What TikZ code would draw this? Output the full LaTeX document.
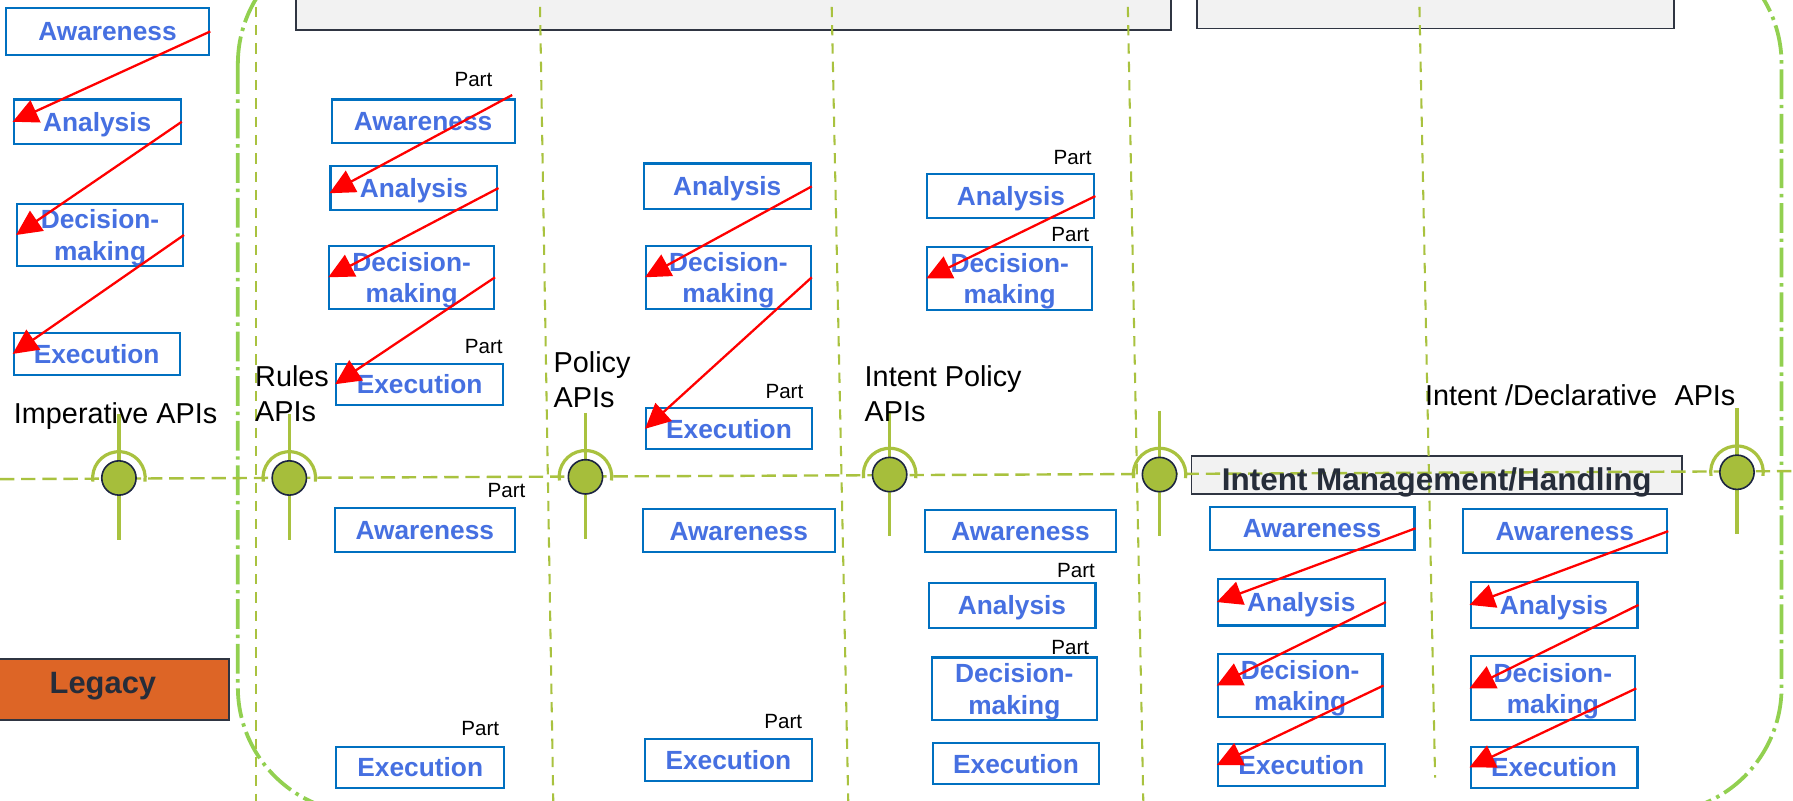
\documentclass[tikz,border=0pt]{standalone}
\usepackage{fontspec}
\setmainfont{Liberation Sans}
\usetikzlibrary{arrows.meta}

\definecolor{boxblue}{RGB}{0,112,192}
\definecolor{textblue}{RGB}{70,112,225}
\definecolor{olive}{RGB}{169,194,63}
\definecolor{lime}{RGB}{146,208,80}
\definecolor{dotfill}{RGB}{166,190,59}
\definecolor{navy}{RGB}{28,37,65}
\definecolor{barfill}{RGB}{242,242,242}
\definecolor{barline}{RGB}{47,53,66}
\definecolor{legacyorange}{RGB}{221,101,38}
\definecolor{darktext}{RGB}{38,45,58}

\tikzset{
  stagebox/.style={draw=boxblue, line width=1.8pt, fill=white, inner sep=0pt,
    text=textblue, font=\fontsize{23}{27.5}\selectfont\bfseries,
    text height=16.5pt, text depth=0pt},
  twostage/.style={stagebox, text depth=27.5pt},
  graybar/.style={draw=barline, line width=1.5pt, fill=barfill, inner sep=0pt},
  legacybox/.style={draw=barline, line width=1.8pt, fill=legacyorange, inner sep=0pt,
    text=darktext, font=\fontsize{27}{30}\selectfont\bfseries,
    text height=19.3pt, text depth=12.6pt},
  imtitle/.style={inner sep=0pt, text=darktext, font=\fontsize{27.5}{30}\selectfont\bfseries,
    text height=19.7pt, text depth=0pt},
  flow/.style={draw=red, line width=2pt, -{Triangle[length=22pt,width=21pt]}},
  lane/.style={draw=olive, line width=1.8pt, dash pattern=on 9pt off 7pt},
  busline/.style={draw=olive, line width=2.1pt, dash pattern=on 12.5pt off 6pt},
  boundaryline/.style={draw=lime, line width=3.3pt, dash pattern=on 26pt off 5pt on 3pt off 5pt,
    rounded corners=110pt},
  stem/.style={draw=olive, line width=3pt},
  sockarc/.style={draw=olive, line width=2.8pt},
  sockdot/.style={circle, minimum size=30pt, inner sep=0pt, fill=dotfill, draw=navy, line width=1.4pt},
  apilabel/.style={inner sep=0pt, anchor=base west, font=\fontsize{25.2}{30.5}\selectfont},
  partlabel/.style={inner sep=0pt, font=\fontsize{18}{20}\selectfont, text height=12.9pt, text depth=0pt},
}

% a stage box given by its corners: style, name, x1, y1, x2, y2, text
\newcommand\stage[7]{%
  \node[#1, minimum width={(#5-#3)*1pt}, minimum height={(#6-#4)*1pt}]
    (#2) at ({(#3+#5)/2},{(#4+#6)/2}) {#7};}
% two centred lines, reference point on the first baseline
\newcommand\dm{\vtop{\hbox to 0pt{\hss Decision-\hss}\hbox to 0pt{\hss making\hss}}}
\newcommand\twolabel[2]{\vtop{\hbox{#1}\hbox{#2}}}
% API socket: stem, half ring and dot
\newcommand\socket[3]{%
  \draw[stem] (#2,#3-56) -- (#2,#3+54);
  \draw[sockarc] (#2,#3) ++(172:23) arc[start angle=172, end angle=368, radius=23];
  \node[sockdot] (#1) at (#2,#3) {};}

\begin{document}
\begin{tikzpicture}[x=1pt,y=-1pt]
\useasboundingbox (0,0) rectangle (1568,700);
\fill[white] (0,0) rectangle (1568,700);

% outer boundary
\draw[boundaryline] (208,-54) rectangle (1558,711);

% header bars and the intent management bar
\node[graybar, minimum width=765pt, minimum height=46pt] (topbarA) at (641.5,3) {};
\node[graybar, minimum width=417pt, minimum height=45pt] (topbarB) at (1255.5,2.5) {};
\node[graybar, minimum width=429pt, minimum height=33pt] (imbar) at (1256.5,415.5) {};

% lane separators
\coordinate (l1t) at (224,-10);  \coordinate (l1b) at (224,710);
\coordinate (l2t) at (472,-10);  \coordinate (l2b) at (484,710);
\coordinate (l3t) at (727,-10);  \coordinate (l3b) at (742,710);
\coordinate (l4t) at (986,-10);  \coordinate (l4b) at (1000,710);
\coordinate (l5t) at (1241,-10); \coordinate (l5b) at (1255,680);
\draw[lane] (l1t) -- (l1b);
\draw[lane] (l2t) -- (l2b);
\draw[lane] (l3t) -- (l3b);
\draw[lane] (l4t) -- (l4b);
\draw[lane] (l5t) -- (l5b);

% API bus
\coordinate (busL) at (0,419);
\coordinate (busR) at (1568,412);
\draw[busline] (busL) -- (busR);

% API sockets
\socket{s1}{104}{418}
\socket{s2}{253}{418}
\socket{s3}{512}{417}
\socket{s4}{778}{415}
\socket{s5}{1014}{415}
\socket{s6}{1519}{413}

\node[imtitle] (imtext) at ([yshift=-3.5pt]imbar.center) {Intent Management/Handling};

% imperative column
\stage{stagebox}{aw0}{5}{7}{183}{48}{Awareness}
\stage{stagebox}{an0}{12}{87}{158}{126}{Analysis}
\stage{twostage}{de0}{15}{178}{160}{233}{\dm}
\stage{stagebox}{ex0}{12}{291}{157}{328}{Execution}

% rules column
\stage{stagebox}{aw1}{290}{87}{450}{125}{Awareness}
\stage{stagebox}{an1}{289}{145}{435}{184}{Analysis}
\stage{twostage}{de1}{288}{215}{432}{270}{\dm}
\stage{stagebox}{ex1}{294}{318}{440}{354}{Execution}
\stage{stagebox}{aw1b}{293}{444}{450}{483}{Awareness}
\stage{stagebox}{ex1b}{294}{653}{441}{689}{Execution}

% policy column
\stage{stagebox}{an2}{563}{143}{709}{183}{Analysis}
\stage{twostage}{de2}{565}{215}{709}{270}{\dm}
\stage{stagebox}{ex2}{565}{357}{710}{393}{Execution}
\stage{stagebox}{aw2b}{562}{445}{730}{483}{Awareness}
\stage{stagebox}{ex2b}{564}{646}{710}{683}{Execution}

% intent policy column
\stage{stagebox}{an3}{811}{152}{957}{191}{Analysis}
\stage{twostage}{de3}{811}{216}{955}{271}{\dm}
\stage{stagebox}{aw3b}{809}{446}{976}{483}{Awareness}
\stage{stagebox}{an3b}{812}{510}{958}{549}{Analysis}
\stage{twostage}{de3b}{815}{575}{959}{630}{\dm}
\stage{stagebox}{ex3b}{816}{650}{961}{686}{Execution}

% intent management columns
\stage{stagebox}{aw4}{1058}{443}{1237}{481}{Awareness}
\stage{stagebox}{an4}{1065}{506}{1211}{547}{Analysis}
\stage{twostage}{de4}{1065}{572}{1209}{627}{\dm}
\stage{stagebox}{ex4}{1065}{651}{1211}{687}{Execution}
\stage{stagebox}{aw5}{1279}{445}{1458}{484}{Awareness}
\stage{stagebox}{an5}{1286}{509}{1432}{549}{Analysis}
\stage{twostage}{de5}{1286}{574}{1430}{630}{\dm}
\stage{stagebox}{ex5}{1286}{653}{1432}{689}{Execution}

% legacy block
\stage{legacybox}{legacy}{-20}{576}{200}{630}{Legacy}

% API labels
\node[apilabel] (impl) at (12,370) {Imperative APIs};
\node[apilabel] (rulesl) at (223,338) {\twolabel{Rules}{APIs}};
\node[apilabel] (policyl) at (484,326) {\twolabel{Policy}{APIs}};
\node[apilabel] (ipolicyl) at (756,338) {\twolabel{Intent Policy}{APIs}};
\node[apilabel] (decll) at (1246,355) {Intent /Declarative\hspace{0.6em}APIs};

% part markers
\node[partlabel] (p1) at (414,69) {Part};
\node[partlabel] (p2) at (423,303) {Part};
\node[partlabel] (p3) at (443,429) {Part};
\node[partlabel] (p4) at (420,637) {Part};
\node[partlabel] (p5) at (686,342) {Part};
\node[partlabel] (p6) at (685,631) {Part};
\node[partlabel] (p7) at (938,137) {Part};
\node[partlabel] (p8) at (936,205) {Part};
\node[partlabel] (p9) at (941,499) {Part};
\node[partlabel] (p10) at (936,566) {Part};

% stage flows
\draw[flow] (aw0.east) -- (an0.west);
\draw[flow] (an0.east) -- (de0.west);
\draw[flow] (de0.east) -- (ex0.west);

\draw[flow] ([xshift=-3pt,yshift=3pt]aw1.north east) -- ([yshift=-4.5pt]an1.west);
\draw[flow] (an1.east) -- (de1.west);
\draw[flow] (de1.east) -- (ex1.west);

\draw[flow] (an2.east) -- (de2.west);
\draw[flow] (de2.east) -- (ex2.west);

\draw[flow] (an3.east) -- (de3.west);

\draw[flow] (aw4.east) -- (an4.west);
\draw[flow] (an4.east) -- (de4.west);
\draw[flow] (de4.east) -- (ex4.west);

\draw[flow] (aw5.east) -- (an5.west);
\draw[flow] (an5.east) -- (de5.west);
\draw[flow] (de5.east) -- (ex5.west);
\end{tikzpicture}
\end{document}
